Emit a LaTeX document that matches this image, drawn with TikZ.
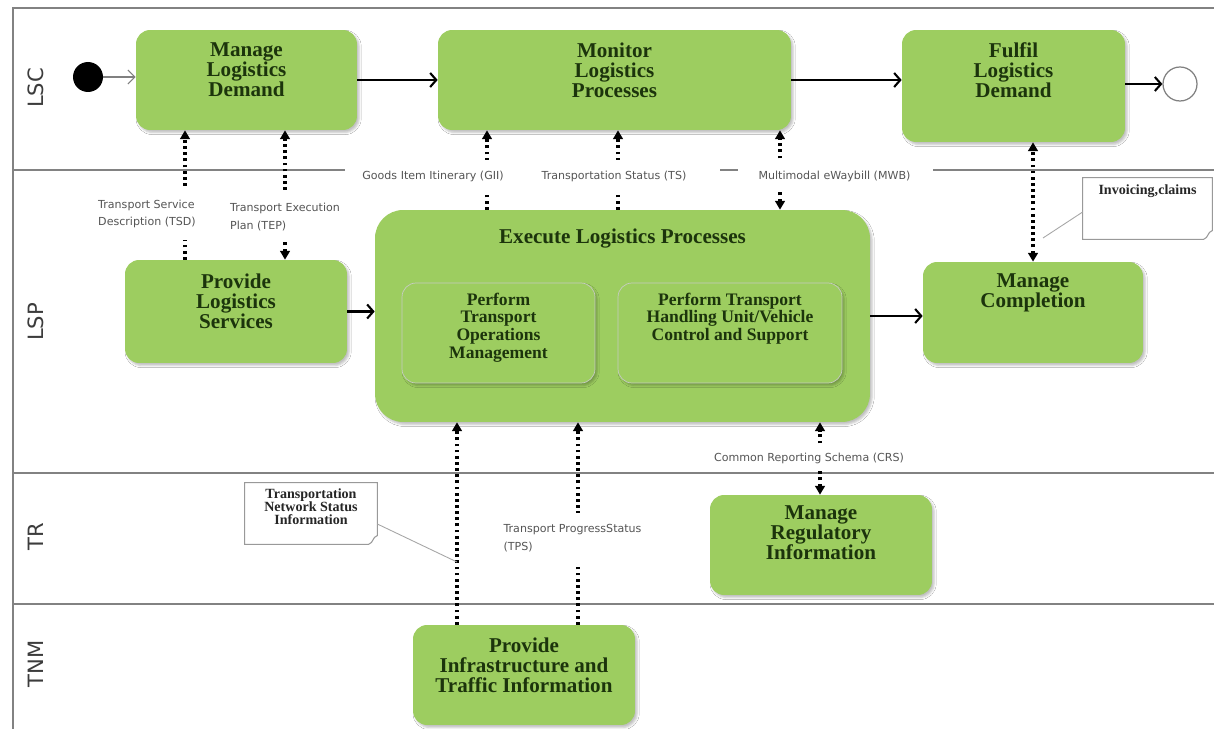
\documentclass[tikz,border=0pt]{standalone}
\usepackage{fontspec}
\setmainfont{Liberation Serif}
\newfontfamily\sansfam{DejaVu Sans}
\usetikzlibrary{arrows.meta,shadows.blur}

\definecolor{actgreen}{RGB}{157,205,96}
\definecolor{acttext}{RGB}{28,52,12}
\definecolor{laneline}{RGB}{130,130,130}
\definecolor{lbltext}{RGB}{85,85,85}
\definecolor{lanetext}{RGB}{60,60,60}

% text block hanging from the top of an activity box
\newcommand\toptext[4]{\parbox[c][#2][t]{#1}{\centering\vspace*{#3}#4\par}}

\tikzset{
  act/.style={fill=actgreen, rounded corners=8pt, inner sep=0pt, text=acttext,
    font=\bfseries\fontsize{12}{11.3}\selectfont,
    blur shadow={shadow xshift=1.2pt, shadow yshift=-1.4pt, shadow blur radius=1.2pt,
      shadow opacity=25}},
  subact/.style={act, draw=acttext!25, line width=0.4pt,
    font=\bfseries\fontsize{10}{10.2}\selectfont},
  lane/.style={draw=laneline, line width=0.8pt},
  lanename/.style={rotate=90, font=\sansfam\fontsize{12}{12}\selectfont, text=lanetext},
  flow/.style={draw=black, line width=1.2pt, -{Straight Barb[length=3.5pt,width=8pt,line width=1.2pt]}},
  startflow/.style={draw=gray, line width=0.6pt, -{Straight Barb[length=4pt,width=8pt,line width=0.6pt]}},
  msg/.style={draw=black, line width=1.8pt, dash pattern=on 1.6pt off 1.9pt},
  uphead/.style={msg, -{Triangle[length=5pt,width=5.5pt]}},
  bothhead/.style={msg, {Triangle[length=5pt,width=5.5pt]}-{Triangle[length=5pt,width=5.5pt]}},
  lbl/.style={fill=white, text=lbltext, font=\sansfam\fontsize{6.3}{10}\selectfont, align=left, inner xsep=2pt},
  notebox/.style={inner sep=0pt, font=\bfseries\fontsize{8}{7.4}\selectfont, text=black!85},
  noteline/.style={draw=gray!80, line width=0.6pt, fill=white},
  pointer/.style={draw=gray!70, line width=0.5pt}
}

\begin{document}
\begin{tikzpicture}[x=0.02cm, y=-0.02cm]
\useasboundingbox (0,0) rectangle (1214,729);
\fill[white] (0,0) rectangle (1214,729);

% swimlane frame and dividers
\draw[lane] (1214,8) -- (13,8) -- (13,729);
\draw[lane] (13,170) -- (345,170);
\draw[lane] (720,170) -- (738,170);
\draw[lane] (933,170) -- (1214,170);
\draw[lane] (13,473) -- (1214,473);
\draw[lane] (13,604) -- (1214,604);

\node[lanename] (lsc) at (36,88) {LSC};
\node[lanename] (lsp) at (36,322) {LSP};
\node[lanename] (tr)  at (36,537) {TR};
\node[lanename] (tnm) at (36,664) {TNM};

% LSC lane
\node[circle, fill=black, minimum size=0.6cm, inner sep=0pt] (start) at (88,77) {};
\node[act] (mld) at (246.5,80) {\toptext{4.42cm}{2cm}{7.3pt}{Manage\\Logistics\\Demand}};
\node[act] (mon) at (614.5,80) {\toptext{7.06cm}{2cm}{7.3pt}{Monitor\\Logistics\\Processes}};
\node[act] (fld) at (1013.5,86) {\toptext{4.46cm}{2.24cm}{7.3pt}{Fulfil\\Logistics\\Demand}};
\node[circle, draw=gray, line width=0.7pt, fill=white, minimum size=0.68cm, inner sep=0pt] (stop) at (1180,84) {};

% LSP lane
\node[act] (pls) at (236,311.5) {\toptext{4.44cm}{2.06cm}{7.9pt}{Provide\\Logistics\\Services}};
\node[act, rounded corners=16pt] (elp) at (622.5,316) {\toptext{9.9cm}{4.24cm}{10.7pt}{Execute Logistics Processes}};
\node[subact] (tom) at (498.5,333) {\toptext{3.86cm}{2cm}{5.5pt}{Perform\\Transport\\Operations\\Management}};
\node[subact] (thu) at (730,333) {\toptext{4.48cm}{2cm}{5.5pt}{Perform Transport\\Handling Unit/Vehicle\\Control and Support}};
\node[act] (mc) at (1033,312.5) {\toptext{4.40cm}{2.02cm}{6.7pt}{Manage\\Completion}};

% TR and TNM lanes
\node[act] (mri) at (821,545) {\toptext{4.44cm}{2cm}{6.2pt}{Manage\\Regulatory\\Information}};
\node[act] (piti) at (524,675) {\toptext{4.44cm}{2cm}{7.3pt}{Provide\\Infrastructure and\\Traffic Information}};

% control flow
\draw[startflow] (start.east) -- (start.east -| mld.west);
\draw[flow] (mld.east) -- (mon.west);
\draw[flow] (mon.east) -- (mon.east -| fld.west);
\draw[flow] (stop.west -| fld.east) -- (stop.west);
\draw[flow] (pls.east) -- (pls.east -| elp.west);
\draw[flow] (elp.east) -- (elp.east -| mc.west);

% message flows
\coordinate (xtsd) at (185,0);
\coordinate (xtep) at (285,0);
\coordinate (xgii) at (487,0);
\coordinate (xts)  at (618,0);
\coordinate (xmwb) at (780,0);
\coordinate (xinv) at (1033,0);
\coordinate (xtns) at (457,0);
\coordinate (xtps) at (578,0);
\coordinate (xcrs) at (820,0);

\draw[uphead]   (pls.north -| xtsd) -- (mld.south -| xtsd);
\draw[bothhead] (pls.north -| xtep) -- (mld.south -| xtep);
\draw[uphead]   (elp.north -| xgii) -- (mon.south -| xgii);
\draw[uphead]   (elp.north -| xts)  -- (mon.south -| xts);
\draw[bothhead] (elp.north -| xmwb) -- (mon.south -| xmwb);
\draw[bothhead] (mc.north -| xinv)  -- (fld.south -| xinv);
\draw[uphead]   (piti.north -| xtns) -- (elp.south -| xtns);
\draw[uphead]   (piti.north -| xtps) -- (elp.south -| xtps);
\draw[bothhead] (mri.north -| xcrs) -- (elp.south -| xcrs);

% message labels
\node[lbl, inner ysep=7pt] (ltsd) at (147,214) {Transport Service\\Description (TSD)};
\node[lbl, inner ysep=6.5pt] (ltep) at (285,217) {Transport Execution\\Plan (TEP)};
\node[lbl, inner ysep=6pt] (lgii) at (433,176) {Goods Item Itinerary (GII)};
\node[lbl, inner ysep=6pt] (lts)  at (614,176) {Transportation Status (TS)};
\node[lbl, inner ysep=6pt] (lmwb) at (834.5,176) {Multimodal eWaybill (MWB)};
\node[lbl, inner ysep=6.5pt] (ltps) at (572.5,538) {Transport ProgressStatus\\(TPS)};
\node[lbl, inner ysep=4.3pt] (lcrs) at (809,458) {Common Reporting Schema (CRS)};

% annotations
\node[notebox] (ninv) at (1147.5,208.5) {\toptext{2.58cm}{1.22cm}{4pt}{Invoicing,claims}};
\draw[noteline] (ninv.north west) -- (ninv.north east) -- ([yshift=5pt]ninv.south east)
  .. controls ([shift={(-3pt,4pt)}]ninv.south east) and ([shift={(-2pt,1pt)}]ninv.south east) .. ([xshift=-5pt]ninv.south east)
  -- (ninv.south west) -- cycle;
\node[notebox] at (ninv) {\toptext{2.58cm}{1.22cm}{4pt}{Invoicing,claims}};
\coordinate (pinv) at (1043,238);
\draw[pointer] (ninv.west |- 0,212) -- (pinv);

\node[notebox] (ntns) at (311,513.5) {\toptext{2.64cm}{1.22cm}{3.5pt}{Transportation\\Network Status\\Information}};
\draw[noteline] (ntns.north west) -- (ntns.north east) -- ([yshift=5pt]ntns.south east)
  .. controls ([shift={(-3pt,4pt)}]ntns.south east) and ([shift={(-2pt,1pt)}]ntns.south east) .. ([xshift=-5pt]ntns.south east)
  -- (ntns.south west) -- cycle;
\node[notebox] at (ntns) {\toptext{2.64cm}{1.22cm}{3.5pt}{Transportation\\Network Status\\Information}};
\coordinate (ptns) at (457,562);
\draw[pointer] (ntns.east |- 0,524) -- (ptns);
\end{tikzpicture}
\end{document}
